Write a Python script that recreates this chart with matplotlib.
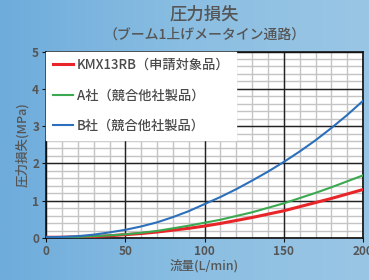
import matplotlib
matplotlib.use("Agg")
import matplotlib.pyplot as plt
import numpy as np
from matplotlib.colors import LinearSegmentedColormap

plt.rcParams['font.family'] = ['Noto Sans CJK JP', 'DejaVu Sans']

# 流量 (L/min)
flow = [0, 10, 20, 30, 40, 50, 60, 70, 80, 90, 100,
        110, 120, 130, 140, 150, 160, 170, 180, 190, 200]
# 圧力損失 (MPa)
kmx = [0.02, 0.02, 0.03, 0.04, 0.06, 0.09, 0.12, 0.16, 0.21, 0.26, 0.32,
       0.39, 0.47, 0.55, 0.64, 0.73, 0.84, 0.95, 1.06, 1.18, 1.30]
comp_a = [0.02, 0.02, 0.03, 0.05, 0.07, 0.10, 0.14, 0.19, 0.26, 0.33, 0.41,
          0.49, 0.59, 0.69, 0.81, 0.93, 1.07, 1.21, 1.36, 1.52, 1.68]
comp_b = [0.02, 0.03, 0.05, 0.09, 0.15, 0.22, 0.31, 0.42, 0.56, 0.72, 0.91,
          1.10, 1.31, 1.54, 1.78, 2.04, 2.32, 2.62, 2.95, 3.30, 3.68]

labels = ["KMX13RB（申請対象品）", "A社（競合他社製品）", "B社（競合他社製品）"]
colors = ["#e8262a", "#3aa94f", "#2c6fba"]
txt = "#555555"

fig = plt.figure(figsize=(3.69, 2.80), dpi=100)

# background gradient
bg = fig.add_axes([0, 0, 1, 1], zorder=-10)
grad = np.linspace(0, 1, 256).reshape(1, -1)
cm = LinearSegmentedColormap.from_list("bg", ["#6eacdc", "#8abee2", "#9ac6e5"])
bg.imshow(grad, aspect="auto", cmap=cm, extent=[0, 1, 0, 1])
bg.set_axis_off()

pos = [0.125, 0.15, 0.859, 0.666]

# bottom axes: white face + fine grid only
axm = fig.add_axes(pos, zorder=0)
axm.set_facecolor("white")
axm.set_xlim(0, 200)
axm.set_ylim(0, 5)
axm.set_xticks(np.arange(0, 201, 10))
axm.set_yticks(np.arange(0, 5.01, 0.2))
axm.grid(color="#c4c4c4", lw=1.0)
axm.tick_params(length=0, labelbottom=False, labelleft=False)
for s in axm.spines.values():
    s.set_visible(False)

# top axes: major grid, curves, labels
ax = fig.add_axes(pos, zorder=1)
ax.patch.set_alpha(0)
ax.set_xlim(0, 200)
ax.set_ylim(0, 5)
ax.set_xticks(np.arange(0, 201, 50))
ax.set_yticks(np.arange(0, 6, 1))
ax.grid(color="#222222", lw=1.0)
ax.set_axisbelow(True)

for y, c, lab, lw in zip([kmx, comp_a, comp_b], colors, labels, [2.2, 1.5, 1.5]):
    ax.plot(flow, y, color=c, lw=lw, label=lab, zorder=3)

for s in ax.spines.values():
    s.set_color("#111111")
    s.set_linewidth(1.2)

ax.tick_params(length=3, color="#111111", labelsize=8.5, labelcolor=txt, pad=2)
ax.set_xticklabels(["0", "50", "100", "150", "200"])
for t in ax.get_xticklabels() + ax.get_yticklabels():
    t.set_fontweight("bold")
ax.get_xticklabels()[-1].set_clip_on(False)

ax.set_xlabel("流量(L/min)", fontsize=9, color=txt, labelpad=1, fontweight="medium")
ax.set_ylabel("圧力損失(MPa)", fontsize=9, color=txt, labelpad=2, fontweight="medium")

leg = ax.legend(loc="upper left", frameon=True, handlelength=1.5,
                labelspacing=1.25, borderaxespad=0.0, borderpad=0.5,
                handletextpad=0.35, fancybox=False,
                prop={"size": 9.5, "weight": "medium"})
leg.get_frame().set_facecolor("white")
leg.get_frame().set_edgecolor("white")
leg.get_frame().set_alpha(1)
for t in leg.get_texts():
    t.set_color("#4a4a4a")

fig.text(0.554, 0.948, "圧力損失", ha="center", va="center", fontsize=12.5, color=txt, fontweight="medium")
fig.text(0.554, 0.878, "（ブーム1上げメータイン通路）", ha="center", va="center", fontsize=10, color=txt, fontweight="medium")

fig.savefig("out.png", dpi=100)
